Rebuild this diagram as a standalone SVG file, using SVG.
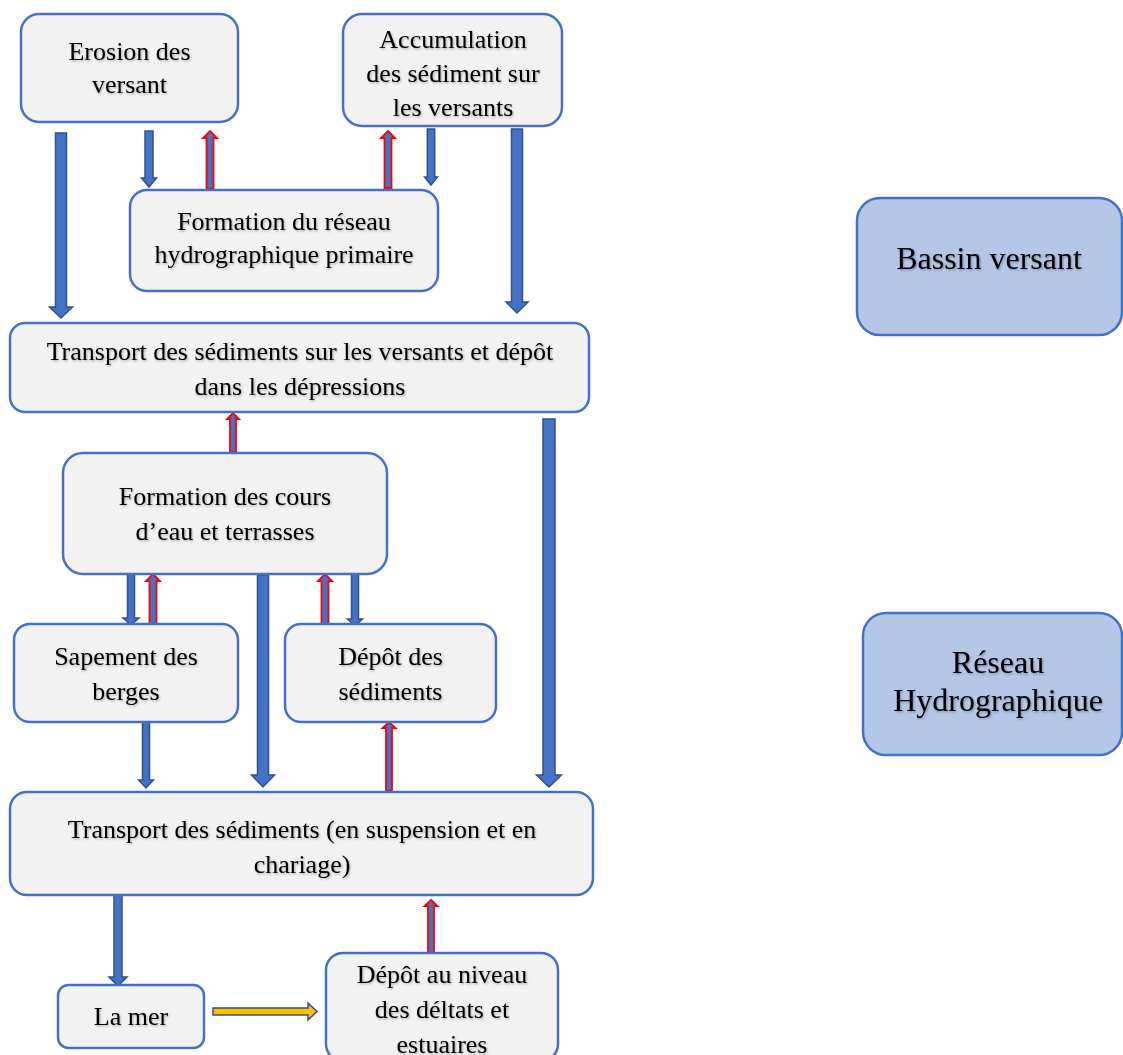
<svg xmlns="http://www.w3.org/2000/svg" width="1123" height="1055" viewBox="0 0 1123 1055">
<defs>
<filter id="ts" x="-5%" y="-20%" width="110%" height="150%">
<feDropShadow dx="1" dy="1.2" stdDeviation="0.8" flood-color="#000" flood-opacity="0.3"/>
</filter>
</defs>
<style>
.box{fill:#F2F2F2;stroke:#4472C4;stroke-width:2.5}
.box2{fill:#B4C7E7;stroke:#4472C4;stroke-width:2.5}
text{font-family:"Liberation Serif","Times New Roman",serif;font-size:26px;fill:#000;text-anchor:middle;filter:url(#ts)}
.big{font-size:32px}
.blue{fill:#4472C4;stroke:#2F528F;stroke-width:1.5;stroke-linejoin:miter}
.red{fill:#4472C4;stroke:#FF0000;stroke-width:1.8;stroke-linejoin:miter}
.yel{fill:#FFC000;stroke:#2F528F;stroke-width:1.5;stroke-linejoin:miter}
</style>
<rect width="1123" height="1055" fill="#fff"/>
<g id="connectors">
<polygon class="blue" points="55.5,133 66.5,133 66.5,307 72.5,307 61,318 49.5,307 55.5,307"/>
<polygon class="blue" points="145,131 153,131 153,178 156.5,178 149,187 141.5,178 145,178"/>
<polygon class="red" points="210,131 217,138 213.5,138 213.5,189 206.5,189 206.5,138 203,138"/>
<polygon class="red" points="388,131 395,138 391.5,138 391.5,188 384.5,188 384.5,138 381,138"/>
<polygon class="blue" points="427.3,129 434.7,129 434.7,177 437.5,177 431,185 424.5,177 427.3,177"/>
<polygon class="blue" points="511.5,129 522.5,129 522.5,302 528,302 517,313 506,302 511.5,302"/>
<polygon class="red" points="233,413 239,419 236,419 236,452 230,452 230,419 227,419"/>
<polygon class="blue" points="543,419 555,419 555,775 561.5,775 549,787 536.5,775 543,775"/>
<polygon class="blue" points="127.5,574 134.5,574 134.5,618 139,618 131,625 123,618 127.5,618"/>
<polygon class="red" points="153,574 160,581 156.5,581 156.5,627 149.5,627 149.5,581 146,581"/>
<polygon class="blue" points="257.5,575 268.5,575 268.5,775 274.5,775 263,787 251.5,775 257.5,775"/>
<polygon class="red" points="325,574 332,581 328.5,581 328.5,626 321.5,626 321.5,581 318,581"/>
<polygon class="blue" points="351.5,574 358.5,574 358.5,619 362.5,619 355,626 347.5,619 351.5,619"/>
<polygon class="blue" points="142.5,722 149.5,722 149.5,780 153.5,780 146,788 138.5,780 142.5,780"/>
<polygon class="red" points="389,722 395.5,728 392,728 392,791 386,791 386,728 382.5,728"/>
<polygon class="blue" points="114,895 122,895 122,977 127,977 118,986 109,977 114,977"/>
<polygon class="red" points="431,900 437.5,906 434,906 434,953 428,953 428,906 424.5,906"/>
<polygon class="yel" points="213,1008 308,1008 308,1003 317,1011.5 308,1020 308,1015 213,1015"/>
</g>
<g id="erosion">
<rect class="box" x="21" y="14" width="217" height="108" rx="18"/>
<text x="129.5" y="60">Erosion des</text>
<text x="129.5" y="93">versant</text>
</g>
<g id="accumulation">
<rect class="box" x="343" y="14" width="219" height="112" rx="19"/>
<text x="453" y="48">Accumulation</text>
<text x="453" y="82">des sédiment sur</text>
<text x="453" y="116">les versants</text>
</g>
<g id="formation-reseau">
<rect class="box" x="130" y="190" width="308" height="101" rx="17"/>
<text x="284" y="230">Formation du réseau</text>
<text x="284" y="263">hydrographique primaire</text>
</g>
<g id="transport1">
<rect class="box" x="10" y="323" width="579" height="89" rx="15"/>
<text x="300" y="360">Transport des sédiments sur les versants et dépôt</text>
<text x="300" y="395">dans les dépressions</text>
</g>
<g id="formation-cours">
<rect class="box" x="63" y="453" width="324" height="121" rx="20"/>
<text x="225" y="505">Formation des cours</text>
<text x="225" y="540">d’eau et terrasses</text>
</g>
<g id="sapement">
<rect class="box" x="14" y="624" width="224" height="98" rx="16"/>
<text x="126" y="665">Sapement des</text>
<text x="126" y="700">berges</text>
</g>
<g id="depot-sediments">
<rect class="box" x="285" y="624" width="211" height="98" rx="16"/>
<text x="390.5" y="665">Dépôt des</text>
<text x="390.5" y="700">sédiments</text>
</g>
<g id="transport2">
<rect class="box" x="10" y="792" width="583" height="103" rx="17"/>
<text x="302" y="838">Transport des sédiments (en suspension et en</text>
<text x="302" y="873">chariage)</text>
</g>
<g id="la-mer">
<rect class="box" x="58" y="985" width="146" height="63" rx="10.5"/>
<text x="131" y="1025">La mer</text>
</g>
<g id="depot-deltas">
<rect class="box" x="326" y="953" width="232" height="108" rx="17"/>
<text x="442" y="983">Dépôt au niveau</text>
<text x="442" y="1018">des déltats et</text>
<text x="442" y="1053">estuaires</text>
</g>
<g id="bassin-versant">
<rect class="box2" x="857" y="198" width="265" height="137" rx="23"/>
<text class="big" x="989" y="269">Bassin versant</text>
</g>
<g id="reseau-hydro">
<rect class="box2" x="863" y="613" width="259" height="142" rx="23"/>
<text class="big" x="998" y="673">Réseau</text>
<text class="big" x="998" y="711">Hydrographique</text>
</g>
</svg>
